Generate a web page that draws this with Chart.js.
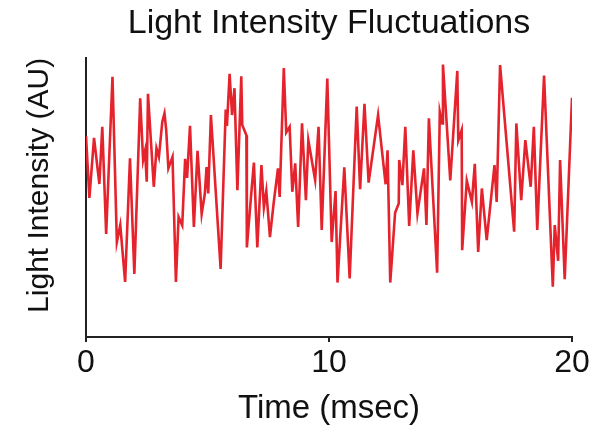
<!DOCTYPE html>
<html>
<head>
<meta charset="utf-8">
<script src="https://cdn.jsdelivr.net/npm/chart.js@4.4.1/dist/chart.umd.min.js"></script>
<style>
html,body{margin:0;padding:0;background:#fff;}
canvas{display:block;}
</style>
</head>
<body>
<canvas id="chart" width="594" height="431"></canvas>
<script>
// sample times (msec) and intensities (AU)
const timeMs = [0, 0.14, 0.33, 0.55, 0.67, 0.83, 1.09, 1.27, 1.41, 1.61,
  1.81, 1.99, 2.23, 2.35, 2.43, 2.50, 2.55, 2.79, 2.90, 3.00,
  3.14, 3.23, 3.30, 3.39, 3.56, 3.70, 3.81, 3.96, 4.08, 4.16,
  4.28, 4.44, 4.59, 4.76, 4.89, 4.96, 5.03, 5.14, 5.54, 5.75,
  5.80, 5.91, 6.01, 6.11, 6.23, 6.39, 6.43, 6.60, 6.62, 6.81,
  6.91, 7.05, 7.22, 7.32, 7.42, 7.57, 7.72, 7.90, 7.97, 8.14,
  8.24, 8.38, 8.49, 8.61, 8.73, 8.89, 9.05, 9.15, 9.43, 9.57,
  9.70, 9.93, 10.11, 10.27, 10.35, 10.63, 10.85, 11.14, 11.28, 11.46,
  11.63, 12.02, 12.33, 12.41, 12.52, 12.72, 12.87, 12.89, 13.02, 13.14,
  13.30, 13.47, 13.64, 13.91, 14.01, 14.11, 14.45, 14.56, 14.66, 14.69,
  14.99, 15.28, 15.32, 15.46, 15.48, 15.67, 15.88, 16.00, 16.14, 16.29,
  16.49, 16.81, 16.90, 17.04, 17.62, 17.71, 17.91, 18.08, 18.30, 18.43,
  18.57, 18.85, 19.21, 19.29, 19.43, 19.51, 19.70, 20];
const intensity = [7.20, 4.98, 7.13, 5.48, 7.53, 3.69, 9.32, 3.40, 4.01, 1.97,
  6.40, 2.26, 8.55, 6.34, 6.67, 5.56, 8.71, 5.38, 6.76, 6.45,
  7.71, 8.01, 7.42, 6.04, 6.45, 1.97, 4.30, 4.00, 6.38, 5.70,
  7.56, 3.94, 6.67, 4.41, 5.13, 6.09, 5.14, 7.95, 2.44, 8.15,
  7.56, 9.43, 7.95, 8.91, 5.26, 9.34, 7.59, 7.23, 3.21, 5.23,
  6.25, 3.21, 6.16, 4.64, 5.23, 3.58, 4.78, 6.04, 5.02, 9.63,
  7.33, 7.53, 5.20, 6.22, 3.94, 7.65, 4.90, 7.05, 5.62, 7.53,
  3.83, 9.26, 3.40, 5.23, 1.95, 6.08, 2.10, 8.25, 5.29, 8.35,
  5.53, 7.95, 5.47, 6.69, 1.95, 4.45, 4.78, 6.34, 5.44, 7.53,
  3.98, 6.69, 4.43, 6.04, 4.01, 7.83, 2.30, 8.07, 7.65, 9.76,
  5.61, 9.53, 7.04, 7.41, 3.11, 5.60, 4.84, 6.20, 3.05, 5.32,
  3.47, 6.16, 4.84, 9.74, 3.77, 7.65, 4.90, 7.05, 5.38, 7.53,
  3.83, 9.36, 1.80, 4.01, 2.73, 6.34, 2.07, 8.57];
const xTicks = [0, 10, 20];

const fontFamily = "'Liberation Sans', Arial, Helvetica, sans-serif";

const points = timeMs.map((t, i) => ({x: t, y: intensity[i]}));

new Chart(document.getElementById('chart'), {
  type: 'line',
  data: {
    datasets: [{
      label: 'Light Intensity',
      data: points,
      borderColor: '#e5232d',
      borderWidth: 2.6,
      pointRadius: 0,
      tension: 0,
      fill: false
    }]
  },
  options: {
    responsive: false,
    animation: false,
    devicePixelRatio: 1,
    layout: {padding: {left: 0, right: 22, top: 0, bottom: 0}},
    plugins: {
      legend: {display: false},
      tooltip: {enabled: false},
      title: {
        display: true,
        fullSize: false, // center over the plot area, not the canvas
        text: 'Light Intensity Fluctuations',
        color: '#111',
        font: {family: fontFamily, size: 34, weight: 'normal', lineHeight: 1.2},
        padding: {top: 3, bottom: 14}
      }
    },
    scales: {
      x: {
        type: 'linear',
        min: 0,
        max: 20,
        afterBuildTicks: (scale) => { scale.ticks = xTicks.map(v => ({value: v})); },
        afterFit: (scale) => { scale.height = 94; },
        border: {display: true, color: '#222', width: 2},
        grid: {drawOnChartArea: false, drawTicks: true, tickLength: 5, color: '#222', lineWidth: 2},
        ticks: {color: '#111', padding: 2, maxRotation: 0, font: {family: fontFamily, size: 32}},
        title: {
          display: true,
          text: 'Time (msec)',
          color: '#111',
          font: {family: fontFamily, size: 33, lineHeight: 1.2},
          padding: {top: 0, bottom: 2}
        }
      },
      y: {
        min: 0,
        max: 10,
        afterFit: (scale) => { scale.width = 86; },
        border: {display: true, color: '#222', width: 2},
        grid: {drawOnChartArea: false, drawTicks: false},
        ticks: {display: false},
        title: {
          display: true,
          align: 'end',
          text: 'Light Intensity (AU)',
          color: '#111',
          font: {family: fontFamily, size: 30, lineHeight: 1.2},
          padding: {top: 22, bottom: 0}
        }
      }
    }
  }
});
</script>
</body>
</html>
